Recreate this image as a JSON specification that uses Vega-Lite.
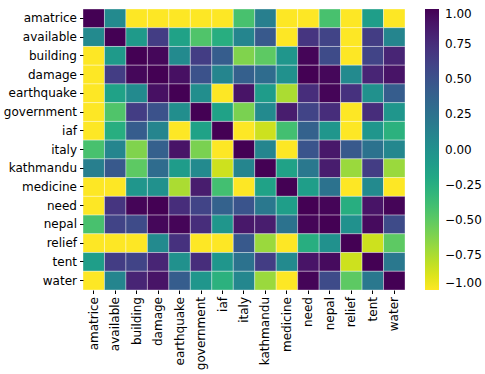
{
  "$schema": "https://vega.github.io/schema/vega-lite/v6.json",
  "autosize": "none",
  "width": 322,
  "height": 281,
  "padding": {"left": 83, "top": 9, "right": 80, "bottom": 84},
  "background": "white",
  "config": {"view": {"stroke": null}, "font": "DejaVu Sans"},
  "data": {"values": [
{"r":"amatrice","c":"amatrice","v":1},{"r":"amatrice","c":"available","v":0.05},{"r":"amatrice","c":"building","v":-1},{"r":"amatrice","c":"damage","v":-1},{"r":"amatrice","c":"earthquake","v":-1},{"r":"amatrice","c":"government","v":-1},{"r":"amatrice","c":"iaf","v":-1},{"r":"amatrice","c":"italy","v":-0.42},{"r":"amatrice","c":"kathmandu","v":0.15},{"r":"amatrice","c":"medicine","v":-1},{"r":"amatrice","c":"need","v":-1},{"r":"amatrice","c":"nepal","v":-0.42},{"r":"amatrice","c":"relief","v":-1},{"r":"amatrice","c":"tent","v":-0.12},{"r":"amatrice","c":"water","v":-1},
{"r":"available","c":"amatrice","v":0.05},{"r":"available","c":"available","v":1},{"r":"available","c":"building","v":-0.08},{"r":"available","c":"damage","v":0.65},{"r":"available","c":"earthquake","v":-0.15},{"r":"available","c":"government","v":-0.45},{"r":"available","c":"iaf","v":-0.25},{"r":"available","c":"italy","v":0.1},{"r":"available","c":"kathmandu","v":0.45},{"r":"available","c":"medicine","v":-1},{"r":"available","c":"need","v":0.7},{"r":"available","c":"nepal","v":0.6},{"r":"available","c":"relief","v":-1},{"r":"available","c":"tent","v":0.65},{"r":"available","c":"water","v":0.1},
{"r":"building","c":"amatrice","v":-1},{"r":"building","c":"available","v":-0.08},{"r":"building","c":"building","v":1},{"r":"building","c":"damage","v":0.97},{"r":"building","c":"earthquake","v":0.05},{"r":"building","c":"government","v":0.65},{"r":"building","c":"iaf","v":0.42},{"r":"building","c":"italy","v":-0.62},{"r":"building","c":"kathmandu","v":-0.5},{"r":"building","c":"medicine","v":-0.05},{"r":"building","c":"need","v":0.98},{"r":"building","c":"nepal","v":0.55},{"r":"building","c":"relief","v":-1},{"r":"building","c":"tent","v":0.6},{"r":"building","c":"water","v":0.8},
{"r":"damage","c":"amatrice","v":-1},{"r":"damage","c":"available","v":0.65},{"r":"damage","c":"building","v":0.97},{"r":"damage","c":"damage","v":1},{"r":"damage","c":"earthquake","v":0.92},{"r":"damage","c":"government","v":0.5},{"r":"damage","c":"iaf","v":0.1},{"r":"damage","c":"italy","v":0.4},{"r":"damage","c":"kathmandu","v":0.3},{"r":"damage","c":"medicine","v":0.0},{"r":"damage","c":"need","v":1},{"r":"damage","c":"nepal","v":0.97},{"r":"damage","c":"relief","v":0.05},{"r":"damage","c":"tent","v":0.8},{"r":"damage","c":"water","v":0.9},
{"r":"earthquake","c":"amatrice","v":-1},{"r":"earthquake","c":"available","v":-0.15},{"r":"earthquake","c":"building","v":0.05},{"r":"earthquake","c":"damage","v":0.92},{"r":"earthquake","c":"earthquake","v":1},{"r":"earthquake","c":"government","v":0.02},{"r":"earthquake","c":"iaf","v":-1},{"r":"earthquake","c":"italy","v":0.9},{"r":"earthquake","c":"kathmandu","v":-0.1},{"r":"earthquake","c":"medicine","v":-0.75},{"r":"earthquake","c":"need","v":0.75},{"r":"earthquake","c":"nepal","v":0.98},{"r":"earthquake","c":"relief","v":0.72},{"r":"earthquake","c":"tent","v":0.0},{"r":"earthquake","c":"water","v":0.42},
{"r":"government","c":"amatrice","v":-1},{"r":"government","c":"available","v":-0.45},{"r":"government","c":"building","v":0.65},{"r":"government","c":"damage","v":0.5},{"r":"government","c":"earthquake","v":0.02},{"r":"government","c":"government","v":1},{"r":"government","c":"iaf","v":-0.15},{"r":"government","c":"italy","v":-0.6},{"r":"government","c":"kathmandu","v":0.05},{"r":"government","c":"medicine","v":0.85},{"r":"government","c":"need","v":0.6},{"r":"government","c":"nepal","v":0.75},{"r":"government","c":"relief","v":-1},{"r":"government","c":"tent","v":0.75},{"r":"government","c":"water","v":-0.05},
{"r":"iaf","c":"amatrice","v":-1},{"r":"iaf","c":"available","v":-0.25},{"r":"iaf","c":"building","v":0.42},{"r":"iaf","c":"damage","v":0.1},{"r":"iaf","c":"earthquake","v":-1},{"r":"iaf","c":"government","v":-0.15},{"r":"iaf","c":"iaf","v":1},{"r":"iaf","c":"italy","v":-1},{"r":"iaf","c":"kathmandu","v":-0.85},{"r":"iaf","c":"medicine","v":-0.4},{"r":"iaf","c":"need","v":0.38},{"r":"iaf","c":"nepal","v":-0.05},{"r":"iaf","c":"relief","v":-1},{"r":"iaf","c":"tent","v":-0.05},{"r":"iaf","c":"water","v":-0.28},
{"r":"italy","c":"amatrice","v":-0.42},{"r":"italy","c":"available","v":0.1},{"r":"italy","c":"building","v":-0.62},{"r":"italy","c":"damage","v":0.4},{"r":"italy","c":"earthquake","v":0.9},{"r":"italy","c":"government","v":-0.6},{"r":"italy","c":"iaf","v":-1},{"r":"italy","c":"italy","v":1},{"r":"italy","c":"kathmandu","v":0.1},{"r":"italy","c":"medicine","v":-1},{"r":"italy","c":"need","v":0.48},{"r":"italy","c":"nepal","v":0.88},{"r":"italy","c":"relief","v":0.45},{"r":"italy","c":"tent","v":0.25},{"r":"italy","c":"water","v":0.08},
{"r":"kathmandu","c":"amatrice","v":0.15},{"r":"kathmandu","c":"available","v":0.45},{"r":"kathmandu","c":"building","v":-0.5},{"r":"kathmandu","c":"damage","v":0.3},{"r":"kathmandu","c":"earthquake","v":-0.1},{"r":"kathmandu","c":"government","v":0.05},{"r":"kathmandu","c":"iaf","v":-0.85},{"r":"kathmandu","c":"italy","v":0.1},{"r":"kathmandu","c":"kathmandu","v":1},{"r":"kathmandu","c":"medicine","v":-0.15},{"r":"kathmandu","c":"need","v":0.2},{"r":"kathmandu","c":"nepal","v":0.85},{"r":"kathmandu","c":"relief","v":-0.7},{"r":"kathmandu","c":"tent","v":0.65},{"r":"kathmandu","c":"water","v":-0.7},
{"r":"medicine","c":"amatrice","v":-1},{"r":"medicine","c":"available","v":-1},{"r":"medicine","c":"building","v":-0.05},{"r":"medicine","c":"damage","v":0.0},{"r":"medicine","c":"earthquake","v":-0.75},{"r":"medicine","c":"government","v":0.85},{"r":"medicine","c":"iaf","v":-0.4},{"r":"medicine","c":"italy","v":-1},{"r":"medicine","c":"kathmandu","v":-0.15},{"r":"medicine","c":"medicine","v":1},{"r":"medicine","c":"need","v":-0.12},{"r":"medicine","c":"nepal","v":0.25},{"r":"medicine","c":"relief","v":-1},{"r":"medicine","c":"tent","v":0.05},{"r":"medicine","c":"water","v":-1},
{"r":"need","c":"amatrice","v":-1},{"r":"need","c":"available","v":0.7},{"r":"need","c":"building","v":0.98},{"r":"need","c":"damage","v":1},{"r":"need","c":"earthquake","v":0.75},{"r":"need","c":"government","v":0.6},{"r":"need","c":"iaf","v":0.38},{"r":"need","c":"italy","v":0.48},{"r":"need","c":"kathmandu","v":0.2},{"r":"need","c":"medicine","v":-0.12},{"r":"need","c":"need","v":1},{"r":"need","c":"nepal","v":0.98},{"r":"need","c":"relief","v":-0.25},{"r":"need","c":"tent","v":0.9},{"r":"need","c":"water","v":0.98},
{"r":"nepal","c":"amatrice","v":-0.42},{"r":"nepal","c":"available","v":0.6},{"r":"nepal","c":"building","v":0.55},{"r":"nepal","c":"damage","v":0.97},{"r":"nepal","c":"earthquake","v":0.98},{"r":"nepal","c":"government","v":0.75},{"r":"nepal","c":"iaf","v":-0.05},{"r":"nepal","c":"italy","v":0.88},{"r":"nepal","c":"kathmandu","v":0.85},{"r":"nepal","c":"medicine","v":0.25},{"r":"nepal","c":"need","v":0.98},{"r":"nepal","c":"nepal","v":1},{"r":"nepal","c":"relief","v":0.0},{"r":"nepal","c":"tent","v":0.95},{"r":"nepal","c":"water","v":0.55},
{"r":"relief","c":"amatrice","v":-1},{"r":"relief","c":"available","v":-1},{"r":"relief","c":"building","v":-1},{"r":"relief","c":"damage","v":0.05},{"r":"relief","c":"earthquake","v":0.72},{"r":"relief","c":"government","v":-1},{"r":"relief","c":"iaf","v":-1},{"r":"relief","c":"italy","v":0.45},{"r":"relief","c":"kathmandu","v":-0.7},{"r":"relief","c":"medicine","v":-1},{"r":"relief","c":"need","v":-0.25},{"r":"relief","c":"nepal","v":0.0},{"r":"relief","c":"relief","v":1},{"r":"relief","c":"tent","v":-0.85},{"r":"relief","c":"water","v":-0.5},
{"r":"tent","c":"amatrice","v":-0.12},{"r":"tent","c":"available","v":0.65},{"r":"tent","c":"building","v":0.6},{"r":"tent","c":"damage","v":0.8},{"r":"tent","c":"earthquake","v":0.0},{"r":"tent","c":"government","v":0.75},{"r":"tent","c":"iaf","v":-0.05},{"r":"tent","c":"italy","v":0.25},{"r":"tent","c":"kathmandu","v":0.65},{"r":"tent","c":"medicine","v":0.05},{"r":"tent","c":"need","v":0.9},{"r":"tent","c":"nepal","v":0.95},{"r":"tent","c":"relief","v":-0.85},{"r":"tent","c":"tent","v":1},{"r":"tent","c":"water","v":0.2},
{"r":"water","c":"amatrice","v":-1},{"r":"water","c":"available","v":0.1},{"r":"water","c":"building","v":0.8},{"r":"water","c":"damage","v":0.9},{"r":"water","c":"earthquake","v":0.42},{"r":"water","c":"government","v":-0.05},{"r":"water","c":"iaf","v":-0.28},{"r":"water","c":"italy","v":0.08},{"r":"water","c":"kathmandu","v":-0.7},{"r":"water","c":"medicine","v":-1},{"r":"water","c":"need","v":0.98},{"r":"water","c":"nepal","v":0.55},{"r":"water","c":"relief","v":-0.5},{"r":"water","c":"tent","v":0.2},{"r":"water","c":"water","v":1}
  ]},
  "mark": {"type": "rect", "stroke": "white", "strokeWidth": 0.6, "strokeOpacity": 0.6},
  "encoding": {
    "x": {"field": "c", "type": "nominal", "sort": null, "title": null,
      "scale": {"paddingInner": 0, "paddingOuter": 0},
      "axis": {"labelAngle": -90, "labelFontSize": 12, "labelColor": "black", "domain": false, "tickColor": "black", "tickSize": 3.5, "labelPadding": 3, "labelFont": "DejaVu Sans", "labelBaseline": "middle", "labelAlign": "right"}},
    "y": {"field": "r", "type": "nominal", "sort": null, "title": null,
      "scale": {"paddingInner": 0, "paddingOuter": 0},
      "axis": {"labelFontSize": 12, "labelColor": "black", "domain": false, "tickColor": "black", "tickSize": 3.5, "labelPadding": 3, "labelFont": "DejaVu Sans"}},
    "color": {"field": "v", "type": "quantitative",
      "scale": {"scheme": "viridis", "reverse": true, "domain": [-1, 1]},
      "legend": {"title": null, "orient": "right", "offset": 20, "gradientLength": 281, "gradientThickness": 14, "values": [-1, -0.75, -0.5, -0.25, 0, 0.25, 0.5, 0.75, 1], "format": ".2f", "labelFontSize": 12, "labelColor": "black", "labelFont": "DejaVu Sans", "labelOffset": 6, "gradientStrokeWidth": 0}}
  }
}
